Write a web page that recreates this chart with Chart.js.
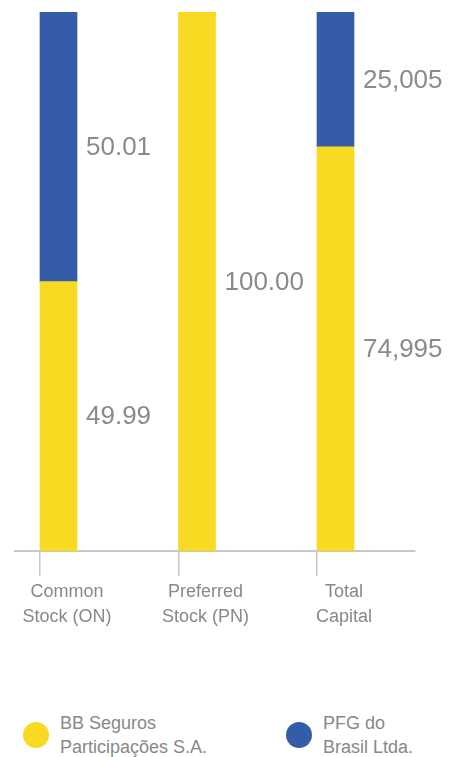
<!DOCTYPE html>
<html lang="en">
<head>
  <meta charset="UTF-8">
  <title>Capital Stock Composition</title>
  <script src="https://cdn.jsdelivr.net/npm/chart.js@4.4.0/dist/chart.umd.min.js"></script>
  <style>
    body { margin: 0; background: #fff; font-family: "Liberation Sans", Arial, sans-serif; }
    #wrap { position: relative; width: 450px; height: 757px; overflow: hidden; }
    #legend { position: absolute; left: 0; top: 711px; width: 450px; }
    .item { position: absolute; top: 0; display: flex; align-items: center; }
    .dot { width: 26px; height: 26px; border-radius: 50%; margin-right: 11px; flex: none; }
    .item span { color: #888; font-size: 18px; line-height: 24px; white-space: pre; }
  </style>
</head>
<body>
  <div id="wrap">
    <canvas id="stockChart" width="450" height="651"></canvas>
    <div id="legend"></div>
  </div>

  <script>
    // categories and shareholding (%)
    const categories = [['Common', 'Stock (ON)'], ['Preferred', 'Stock (PN)'], ['Total', 'Capital']];
    const bbSeguros = [49.99, 100.00, 74.995];
    const pfgBrasil = [50.01, 0, 25.005];
    const seriesNames = ['BB Seguros\nParticipações S.A.', 'PFG do\nBrasil Ltda.'];
    const seriesColors = ['#F7DA21', '#355CA8'];

    const BAR = 37;        // bar thickness px
    const STEP = 138.5;    // px between bar centres

    // total capital is printed with three decimals and a comma
    function fmt(v, i) {
      return i === 2 ? v.toFixed(3).replace('.', ',') : v.toFixed(2);
    }

    // value text to the right of each segment
    const valueLabels = {
      id: 'valueLabels',
      afterDatasetsDraw(chart) {
        const ctx = chart.ctx;
        ctx.save();
        ctx.font = '26px "Liberation Sans", Arial, sans-serif';
        ctx.fillStyle = '#8a8a8a';
        ctx.textAlign = 'left';
        ctx.textBaseline = 'middle';
        chart.data.datasets.forEach((ds, d) => {
          chart.getDatasetMeta(d).data.forEach((bar, i) => {
            const v = ds.data[i].y;
            if (!v) return;
            const p = bar.getProps(['x', 'y', 'base', 'width'], true);
            ctx.fillText(fmt(v, i), p.x + p.width / 2 + 9, (p.y + p.base) / 2 + 1);
          });
        });
        ctx.restore();
      }
    };

    const series = [bbSeguros, pfgBrasil];
    const chart = new Chart(document.getElementById('stockChart'), {
      type: 'bar',
      data: {
        datasets: series.map((vals, s) => ({
          label: seriesNames[s],
          data: vals.map((v, i) => ({ x: i, y: v })),
          backgroundColor: seriesColors[s],
          borderWidth: 0,
          barThickness: BAR
        }))
      },
      options: {
        responsive: false,
        animation: false,
        layout: { padding: { left: 15, right: 35, top: 12, bottom: 0 } },
        plugins: { legend: { display: false }, tooltip: { enabled: false } },
        scales: {
          x: {
            type: 'linear',
            stacked: true,
            offset: false,
            min: -0.314,
            max: -0.314 + 400 / STEP,
            afterBuildTicks: s => {
              // tick marks sit on the left edge of each bar
              s.ticks = categories.map((c, i) => ({ value: i - (BAR / 2) / STEP }));
            },
            afterFit: s => {
              s.height = 100;
              s.paddingLeft = 0;
              s.paddingRight = 0;
            },
            border: { color: '#c8c8c8', width: 2 },
            grid: { offset: false, drawOnChartArea: false, color: '#c8c8c8', lineWidth: 1.5, tickLength: 25 },
            ticks: {
              padding: 4,
              labelOffset: 27,
              autoSkip: false,
              maxRotation: 0,
              color: '#888',
              font: { family: 'Liberation Sans', size: 18, lineHeight: 1.39 },
              callback: (v, i) => categories[i]
            }
          },
          y: { stacked: true, min: 0, max: 100, display: false }
        }
      },
      plugins: [valueLabels]
    });

    // legend built from the datasets
    const legend = document.getElementById('legend');
    const lefts = [23, 286];
    chart.data.datasets.forEach((ds, i) => {
      const item = document.createElement('div');
      item.className = 'item';
      item.style.left = lefts[i] + 'px';
      item.innerHTML = `<div class="dot" style="background:${ds.backgroundColor}"></div><span></span>`;
      item.querySelector('span').textContent = ds.label;
      legend.appendChild(item);
    });
  </script>
</body>
</html>
